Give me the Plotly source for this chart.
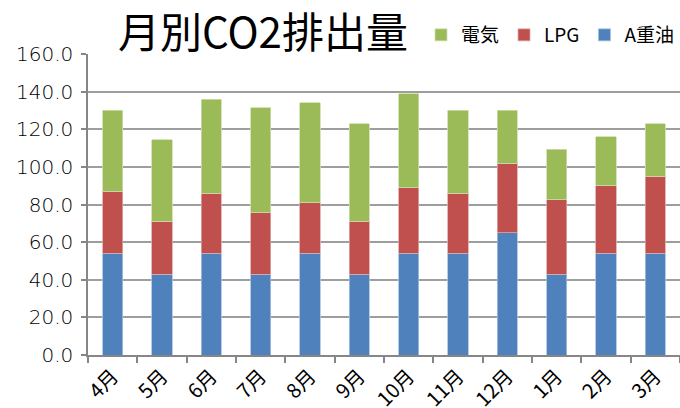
import plotly.graph_objects as go

months = ["4月", "5月", "6月", "7月", "8月", "9月", "10月", "11月", "12月", "1月", "2月", "3月"]
a_heavy_oil = [54, 43, 54, 43, 54, 43, 54, 54, 65, 43, 54, 54]
lpg = [33, 28, 32, 32.5, 27, 28, 35, 32, 37, 39.5, 36, 41]
electricity = [43, 43.5, 50, 56, 53, 52, 50, 44, 28, 27, 26, 28]
y_ticks = [0, 20, 40, 60, 80, 100, 120, 140, 160]

FONT = "Noto Sans CJK JP"

fig = go.Figure()
fig.add_trace(go.Bar(x=months, y=a_heavy_oil, name="A重油",
                     marker=dict(color="#4F81BD", line=dict(color="#A7C0DE", width=0.8))))
fig.add_trace(go.Bar(x=months, y=lpg, name="LPG",
                     marker=dict(color="#C0504D", line=dict(color="#DFA8A6", width=0.8))))
fig.add_trace(go.Bar(x=months, y=electricity, name="電気",
                     marker=dict(color="#9BBB59", line=dict(color="#CDDDAC", width=0.8))))

fig.update_layout(
    width=680, height=408,
    barmode="stack", bargap=0.59,
    plot_bgcolor="white", paper_bgcolor="white",
    margin=dict(l=88, r=0, t=54, b=53),
    font=dict(family=FONT, color="#000000"),
    showlegend=True,
    legend=dict(orientation="h", x=1.0, xanchor="right", y=1.0, yanchor="bottom",
                traceorder="reversed", font=dict(size=19, family=FONT),
                itemwidth=30, bgcolor="rgba(0,0,0,0)"),
)
fig.add_annotation(text="月別CO2排出量", xref="paper", yref="paper",
                   x=(116 - 88) / 592, xanchor="left",
                   y=1 + (54 - 29.5) / 301, yanchor="middle",
                   showarrow=False, font=dict(size=42, family=FONT, color="#000000"))

fig.update_xaxes(
    type="category", tickangle=-45, automargin=False,
    tickfont=dict(size=20, family=FONT, color="#000000"),
    showline=True, linecolor="#868686", linewidth=1.5,
    ticks="outside", ticklen=6, tickcolor="#868686", tickwidth=1.5,
    tickson="boundaries", showgrid=False,
)
fig.update_yaxes(
    range=[0, 160], tickvals=y_ticks, tickformat=".1f", automargin=False,
    tickfont=dict(size=20, family="DejaVu Sans", color="#000000", weight=300),
    ticklabelstandoff=4,
    showline=True, linecolor="#868686", linewidth=1.5,
    ticks="outside", ticklen=5, tickcolor="#868686", tickwidth=1.5,
    showgrid=True, gridcolor="#9E9E9E", gridwidth=1.5, zeroline=False,
)

fig.write_html("out.html")
